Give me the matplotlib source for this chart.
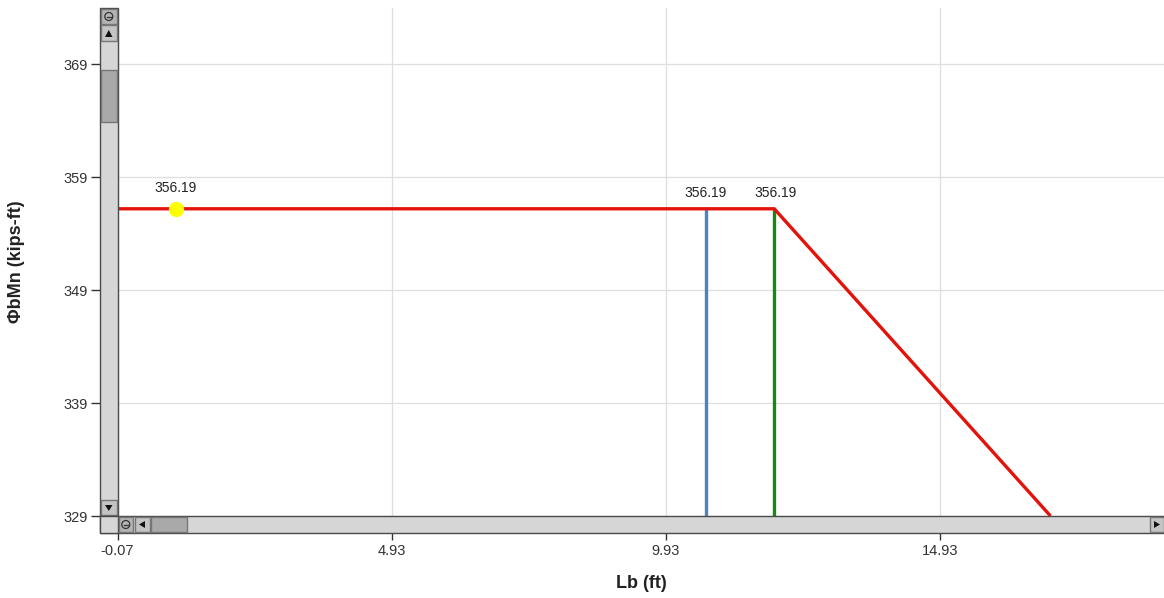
import matplotlib.pyplot as plt
from matplotlib.patches import Rectangle, Ellipse, Polygon

plt.rcParams['font.family'] = ['Liberation Sans', 'DejaVu Sans']

# ---------------------------------------------------------------------------
# Data
# ---------------------------------------------------------------------------
capacity_x = [-0.07, 11.91, 16.95]
capacity_y = [356.19, 356.19, 329.0]

unbraced_x = 10.66     # blue line
lp_x = 11.91           # green line
point_x = 0.99         # yellow marker
point_y = 356.19

x_ticks = [-0.07, 4.93, 9.93, 14.93]
y_ticks = [329, 339, 349, 359, 369]
x_lim = (-0.07, 19.02)
y_lim = (329.0, 373.96)

W, H = 1164, 598
PT = 0.72  # points per pixel at dpi 100
fig = plt.figure(figsize=(W / 100, H / 100), dpi=100)

def fx(px):
    return px / W

def fy(py):
    return 1 - py / H

ax = fig.add_axes([fx(117.5), fy(516), fx(1164 - 117.5), (516 - 8) / H])
ax.set_xlim(*x_lim)
ax.set_ylim(*y_lim)

ax.grid(True, color='#dedede', linewidth=0.9)
ax.set_axisbelow(True)

red = '#e3120b'
ax.plot(capacity_x, capacity_y, color=red, linewidth=2.4, solid_capstyle='butt', zorder=3)
ax.plot([unbraced_x, unbraced_x], [y_lim[0], point_y], color='#4a86be', linewidth=2.4, zorder=2)
ax.plot([lp_x, lp_x], [y_lim[0], point_y], color='#138a13', linewidth=2.4, zorder=2)
ax.plot([point_x], [point_y], 'o', color='#ffff00', markersize=11, markeredgewidth=0, zorder=4)

lab_kw = dict(ha='center', va='center', fontsize=10, color='#222222', textcoords='offset points')
ax.annotate(f'{point_y:.2f}', (point_x, point_y), xytext=(0, 15), **lab_kw)
ax.annotate(f'{point_y:.2f}', (unbraced_x, point_y), xytext=(0, 11.5), **lab_kw)
ax.annotate(f'{point_y:.2f}', (lp_x, point_y), xytext=(1, 11.5), **lab_kw)

for s in ['top', 'right']:
    ax.spines[s].set_visible(False)
ax.spines['left'].set_position(('outward', 18 * PT))
ax.spines['bottom'].set_position(('outward', 17 * PT))
ax.spines['left'].set_visible(False)
ax.spines['bottom'].set_visible(False)

ax.set_xticks(x_ticks)
ax.set_xticklabels([f'{v:.2f}' for v in x_ticks])
ax.set_yticks(y_ticks)
ax.tick_params(axis='both', labelsize=10.5, labelcolor='#333333', color='#333333', width=1)
ax.tick_params(axis='y', length=9 * PT, pad=3 * PT)
ax.tick_params(axis='x', length=7 * PT, pad=4 * PT)

fig.text(fx(641), fy(583), 'Lb (ft)', ha='center', va='center', fontsize=13, fontweight='bold', color='#222222')
fig.text(fx(17), fy(262), 'ΦbMn (kips-ft)', ha='center', va='center', rotation=90, fontsize=13, fontweight='bold', color='#222222')

# ---------------------------------------------------------------------------
# Scrollbars (figure pixel coordinates)
# ---------------------------------------------------------------------------
track = '#d6d6d6'
thumb = '#a9a9a9'
button = '#c4c4c4'
edge = '#4a4a4a'

def rect(x0, y0, x1, y1, fc, ec=edge, lw=1.0, z=10):
    fig.patches.append(Rectangle((fx(x0), fy(y1)), fx(x1 - x0), (y1 - y0) / H,
                                 transform=fig.transFigure, facecolor=fc,
                                 edgecolor=ec, linewidth=lw, zorder=z))

def tri(pts, z=12):
    fig.patches.append(Polygon([(fx(a), fy(b)) for a, b in pts], closed=True,
                               transform=fig.transFigure, facecolor='#111111',
                               edgecolor='none', zorder=z))

def zoom_btn(cx, cy, z=12):
    fig.patches.append(Ellipse((fx(cx), fy(cy)), 8 / W, 8 / H, transform=fig.transFigure,
                               facecolor='none', edgecolor='#333333', linewidth=0.9, zorder=z))
    fig.lines.append(plt.Line2D([fx(cx - 2.2), fx(cx + 2.2)], [fy(cy), fy(cy)],
                                transform=fig.transFigure, color='#333333', linewidth=0.9, zorder=z))

# vertical bar
rect(100, 8, 117.5, 516, track)
rect(101, 9, 116.5, 24, '#b4b4b4', ec='#777777')
zoom_btn(108.8, 16.5)
rect(101, 25, 116.5, 41, button, ec='#777777')
tri([(105, 37), (112.5, 37), (108.8, 30)])
rect(101, 70, 116.5, 122, thumb, ec='#777777')
rect(101, 500, 116.5, 515, button, ec='#777777')
tri([(105, 505), (112.5, 505), (108.8, 511)])

# horizontal bar
rect(100, 516, 1164, 533, track)
rect(100, 516, 117.5, 533, track)
rect(118.5, 517, 133, 532, '#b4b4b4', ec='#777777')
zoom_btn(125.8, 524.5)
rect(135, 517, 150, 532, button, ec='#777777')
tri([(145, 521), (145, 528), (139, 524.5)])
rect(151, 517, 187, 532, thumb, ec='#777777')
rect(1150, 517, 1164, 532, button, ec='#777777')
tri([(1154, 521), (1154, 528), (1160, 524.5)])

fig.savefig('out.png', dpi=100)
